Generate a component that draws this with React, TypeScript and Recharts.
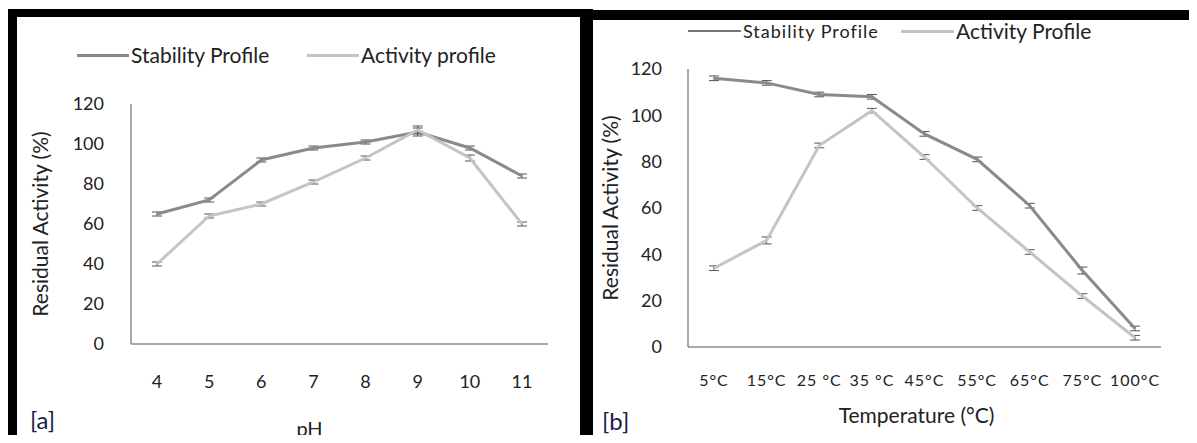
import { ErrorBar, Line, LineChart, XAxis, YAxis } from "recharts";

// panel [a] - pH profile
const phLabels = ["4", "5", "6", "7", "8", "9", "10", "11"];
const phStability = [65, 72, 92, 98, 101, 106, 98, 84];
const phActivity = [40, 64, 70, 81, 93, 107, 93, 60];
const phStabilityErr = [1, 1, 1, 1, 1, 2, 1, 1];
const phActivityErr = [1, 1, 1, 1, 1, 2, 1.5, 1];

// panel [b] - temperature profile
const tempLabels = ["5°C", "15°C", "25 °C", "35 °C", "45°C", "55°C", "65°C", "75°C", "100°C"];
const tempStability = [116, 114, 109, 108, 92, 81, 61, 33, 8];
const tempActivity = [34, 46, 87, 102, 82, 60, 41, 22, 4];
const tempStabilityErr = [1, 1, 1, 1, 1, 1, 1, 1.5, 1];
const tempActivityErr = [1, 1.5, 1, 1, 1, 1, 1, 1, 1];

const yTicks = [0, 20, 40, 60, 80, 100, 120];
const namesA = ["Stability Profile", "Activity profile"];
const namesB = ["Stability Profile", "Activity Profile"];

const DARK = "#8a8a8a";
const LIGHT = "#c4c4c4";
const AXIS = "#8c8c8c";
const FONT = "Lato, 'Liberation Sans', sans-serif";

const dataA = phLabels.map((label, i) => ({
  label,
  stability: phStability[i],
  activity: phActivity[i],
  sErr: phStabilityErr[i],
  aErr: phActivityErr[i],
}));

const dataB = tempLabels.map((label, i) => ({
  label,
  stability: tempStability[i],
  activity: tempActivity[i],
  sErr: tempStabilityErr[i],
  aErr: tempActivityErr[i],
}));

const LegendItem = ({ name, color, thick, left, top, lineW, spacing, size }: any) => (
  <div
    style={{
      position: "absolute",
      left,
      top,
      display: "flex",
      alignItems: "center",
      fontFamily: FONT,
      fontSize: size,
      lineHeight: "24px",
      color: "#222",
      letterSpacing: spacing,
      whiteSpace: "nowrap",
    }}
  >
    <span style={{ display: "inline-block", width: lineW, height: thick, background: color, marginRight: 2 }} />
    {name}
  </div>
);

const bar = (left: number, top: number, width: number, height: number, bg = "#000") => (
  <div style={{ position: "absolute", left, top, width, height, background: bg }} />
);

const yLabel = {
  value: "Residual Activity (%)",
  angle: -90,
  position: "insideLeft" as const,
  offset: 10,
  fill: "#222",
  fontSize: 21,
  fontFamily: FONT,
  style: { textAnchor: "middle" },
};

export default function App() {
  return (
    <div
      style={{
        position: "relative",
        margin: -8,
        width: 1197,
        height: 443,
        background: "#fff",
        overflow: "hidden",
      }}
    >
      {/* panel [a] */}
      <div style={{ position: "absolute", left: 0, top: 0 }}>
        <LineChart
          width={580}
          height={443}
          data={dataA}
          margin={{ top: 104, right: 32, left: 31, bottom: 0 }}
        >
          <XAxis
            dataKey="label"
            height={99}
            padding={{ left: 26, right: 26 }}
            axisLine={{ stroke: AXIS, strokeWidth: 1.5 }}
            tickLine={false}
            tickMargin={25}
            tick={{ fill: "#222", fontSize: 18, fontFamily: FONT }}
            label={{ value: "pH", position: "insideBottom", offset: 7, dx: -30, fill: "#222", fontSize: 20, fontFamily: FONT }}
          />
          <YAxis
            width={100}
            domain={[0, 120]}
            ticks={yTicks}
            axisLine={{ stroke: AXIS, strokeWidth: 1.5 }}
            tickLine={false}
            tickMargin={21}
            tick={{ fill: "#222", fontSize: 18, fontFamily: FONT }}
            label={yLabel}
          />
          <Line dataKey="stability" name={namesA[0]} stroke={DARK} strokeWidth={3} dot={false} isAnimationActive={false}>
            <ErrorBar dataKey="sErr" width={5} stroke="#555" strokeWidth={1} direction="y" />
          </Line>
          <Line dataKey="activity" name={namesA[1]} stroke={LIGHT} strokeWidth={3} dot={false} isAnimationActive={false}>
            <ErrorBar dataKey="aErr" width={5} stroke="#555" strokeWidth={1} direction="y" />
          </Line>
        </LineChart>
      </div>
      <LegendItem name={namesA[0]} color={DARK} thick={3} left={77} top={43} lineW={52} spacing={0} size={21} />
      <LegendItem name={namesA[1]} color={LIGHT} thick={3} left={307} top={43} lineW={52} spacing={0} size={21} />
      <div style={{ position: "absolute", left: 30, top: 405, fontFamily: FONT, fontSize: 24, color: "#1c1c4a" }}>[a]</div>

      {/* panel [b] */}
      <div style={{ position: "absolute", left: 593, top: 0 }}>
        <LineChart
          width={604}
          height={443}
          data={dataB}
          margin={{ top: 69, right: 36, left: 8, bottom: 0 }}
        >
          <XAxis
            dataKey="label"
            height={96}
            padding={{ left: 26, right: 26 }}
            axisLine={{ stroke: AXIS, strokeWidth: 1.5 }}
            tickLine={false}
            tickMargin={22}
            tick={{ fill: "#222", fontSize: 16, fontFamily: FONT, letterSpacing: 1 }}
            label={{ value: "Temperature (°C)", position: "insideBottom", offset: 20, dx: -8, fill: "#222", fontSize: 21, fontFamily: FONT }}
          />
          <YAxis
            width={87}
            domain={[0, 120]}
            ticks={yTicks}
            axisLine={{ stroke: AXIS, strokeWidth: 1.5 }}
            tickLine={false}
            tickMargin={20}
            tick={{ fill: "#222", fontSize: 18, fontFamily: FONT }}
            label={yLabel}
          />
          <Line dataKey="stability" name={namesB[0]} stroke={DARK} strokeWidth={3} dot={false} isAnimationActive={false}>
            <ErrorBar dataKey="sErr" width={5} stroke="#555" strokeWidth={1} direction="y" />
          </Line>
          <Line dataKey="activity" name={namesB[1]} stroke={LIGHT} strokeWidth={3} dot={false} isAnimationActive={false}>
            <ErrorBar dataKey="aErr" width={5} stroke="#555" strokeWidth={1} direction="y" />
          </Line>
        </LineChart>
      </div>
      <LegendItem name={namesB[0]} color="#777" thick={1.5} left={688} top={19} lineW={53} spacing={1} size={18} />
      <LegendItem name={namesB[1]} color={LIGHT} thick={3} left={901} top={19} lineW={53} spacing={0} size={21} />
      <div style={{ position: "absolute", left: 602, top: 406, fontFamily: FONT, fontSize: 24, color: "#1c1c4a" }}>[b]</div>

      {/* frame borders */}
      {bar(7, 9, 586, 8)}
      {bar(593, 10, 604, 10)}
      {bar(7, 9, 10, 434)}
      {bar(580, 9, 13, 434)}
      {bar(593, 440, 604, 2, "#999")}
    </div>
  );
}
